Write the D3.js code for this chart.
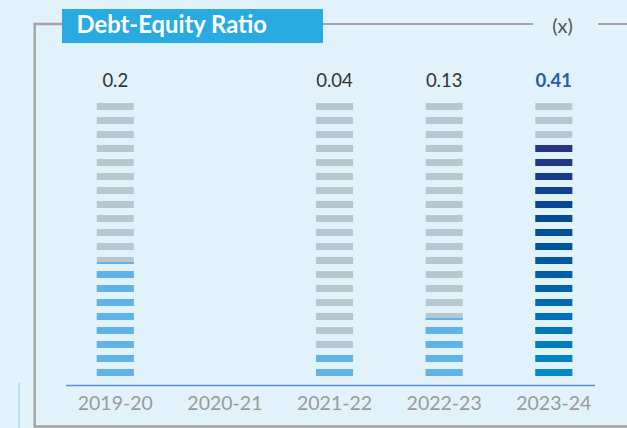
<!DOCTYPE html>
<html>
<head>
<meta charset="utf-8">
<script src="https://cdn.jsdelivr.net/npm/d3@7"></script>
<style>
  html, body { margin: 0; padding: 0; background: #e1f2fa; }
  svg { display: block; }
  text { font-family: Lato, "Open Sans", sans-serif; }
</style>
</head>
<body>
<svg id="chart" width="627" height="428"></svg>
<script>
// ---- data ----
const title = "Debt-Equity Ratio";
const unitLabel = "(x)";
const years = ["2019-20", "2020-21", "2021-22", "2022-23", "2023-24"];
const values = [0.2, null, 0.04, 0.13, 0.41];
const valueLabels = ["0.2", "", "0.04", "0.13", "0.41"];
// filled level of each stripe column, in stripe units, as drawn in the reference
const fillLevels = [8.15, null, 2, 4.15, 17];
const stripeCount = 20;
const highlightIndex = 4;

// ---- layout ----
const W = 627, H = 428;
const svg = d3.select("#chart");

svg.append("rect").attr("width", W).attr("height", H).attr("fill", "#e1f2fa");

// decorative thin vertical line at far left
svg.append("line").attr("x1", 19).attr("x2", 19).attr("y1", 383).attr("y2", H)
  .attr("stroke", "#b9def5").attr("stroke-width", 2);

// frame
const frameColor = "#a3a3a3";
svg.append("path")
  .attr("d", "M62,24 H34.7 V426.5 H627")
  .attr("fill", "none").attr("stroke", frameColor).attr("stroke-width", 2.4);
svg.append("line").attr("x1", 323).attr("x2", 533).attr("y1", 24).attr("y2", 24)
  .attr("stroke", frameColor).attr("stroke-width", 2);
svg.append("line").attr("x1", 598).attr("x2", 627).attr("y1", 24).attr("y2", 24)
  .attr("stroke", frameColor).attr("stroke-width", 2);
svg.append("text").attr("x", 562.5).attr("y", 32.5).attr("text-anchor", "middle")
  .attr("font-size", 20).attr("fill", "#555").text(unitLabel);

// title box
svg.append("rect").attr("x", 62).attr("y", 9).attr("width", 261).attr("height", 34)
  .attr("fill", "#29abe2");
svg.append("text").attr("x", 76.5).attr("y", 33).attr("font-size", 23.8)
  .attr("font-weight", 700).attr("fill", "#fff").text(title);

// scales
const x = d3.scalePoint().domain(years).range([115.3, 553.8]);
const stripePitch = 14, stripeH = 7, stripeW = 37;
const baseY = 376; // bottom edge of lowest stripe
const level = d3.scaleLinear().domain([0, stripeCount]).range([baseY, baseY - stripeCount * stripePitch]);

// axis line
svg.append("line").attr("x1", 66).attr("x2", 595).attr("y1", 385.5).attr("y2", 385.5)
  .attr("stroke", "#5b8fd0").attr("stroke-width", 1.6);

// x labels
svg.append("g").selectAll("text").data(years).join("text")
  .attr("x", d => x(d)).attr("y", 410).attr("text-anchor", "middle")
  .attr("font-size", 19.5).attr("fill", "#9a9a9a").text(d => d);

const gradient = d3.piecewise(d3.interpolateRgb, ["#0289cd", "#0068ae", "#004b95", "#253383"]);

const defs = svg.append("defs");

years.forEach((yr, i) => {
  if (values[i] == null) return;
  const cx = x(yr);
  const g = svg.append("g");
  const stripes = d3.range(stripeCount);
  // gray stripes
  g.selectAll("rect.bg").data(stripes).join("rect").attr("class", "bg")
    .attr("x", cx - stripeW / 2).attr("width", stripeW)
    .attr("y", k => level(k) - stripeH).attr("height", stripeH)
    .attr("fill", "#b8c7cd");
  // filled portion
  const fillTop = level(fillLevels[i]);
  const clipId = "clip" + i;
  defs.append("clipPath").attr("id", clipId).append("rect")
    .attr("x", cx - stripeW / 2 - 1).attr("width", stripeW + 2)
    .attr("y", fillTop).attr("height", baseY - fillTop + 2);
  const nFilled = Math.ceil(fillLevels[i]);
  g.append("g").attr("clip-path", `url(#${clipId})`)
    .selectAll("rect").data(stripes.filter(k => k < nFilled)).join("rect")
    .attr("x", cx - stripeW / 2).attr("width", stripeW)
    .attr("y", k => level(k) - stripeH).attr("height", stripeH)
    .attr("fill", k => i === highlightIndex ? gradient(k / Math.max(1, nFilled - 1)) : "#60b3e6");
  // value label
  svg.append("text").attr("x", cx).attr("y", 87).attr("text-anchor", "middle")
    .attr("font-size", 18.5)
    .attr("font-weight", i === highlightIndex ? 700 : 400)
    .attr("fill", i === highlightIndex ? "#2b5aa8" : "#333")
    .text(valueLabels[i]);
});
</script>
</body>
</html>
